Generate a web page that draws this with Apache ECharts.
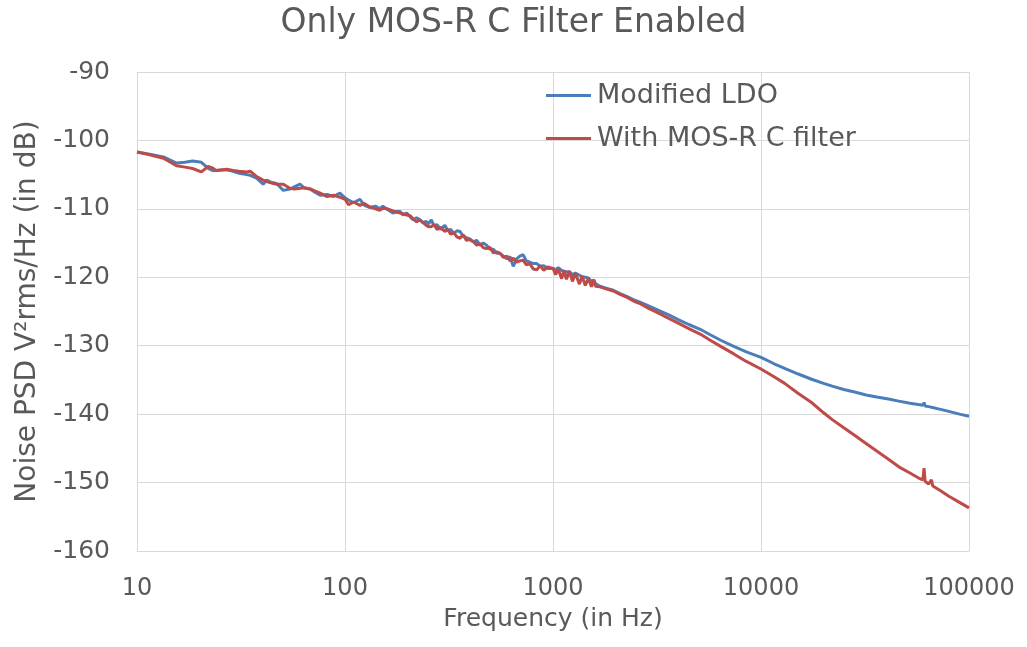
<!DOCTYPE html>
<html>
<head>
<meta charset="utf-8">
<script src="https://cdn.jsdelivr.net/npm/echarts@6/dist/echarts.min.js"></script>
<style>
  html, body { margin: 0; padding: 0; background: #ffffff; }
  #chart { width: 1027px; height: 647px; }
</style>
</head>
<body>
<div id="chart"></div>
<script>
// Frequency points (Hz) shared by both noise spectra
const freqHz = [10, 11.5, 13.4, 15.5, 17, 18.5, 20.4, 22, 23, 24, 27, 29, 31, 33.7, 35, 37.6, 40.4, 42, 44, 46.9,
  50.5, 54.4, 57, 60.8, 64, 68, 72, 76, 82, 88, 94.5, 100, 104, 110, 118, 124, 131, 140, 147, 152,
  160, 170, 178, 184, 190, 198, 206, 213, 221, 229, 238, 245, 252, 260, 268, 277, 288, 302, 312, 322,
  334, 345, 357, 370, 383, 398, 414, 430, 446, 463, 479, 497, 516, 537, 556, 578, 600, 622, 644, 668,
  693, 718, 745, 773, 805, 836, 868, 903, 940, 1000, 1030, 1060, 1100, 1130, 1160, 1200, 1240, 1280, 1340, 1380,
  1430, 1480, 1530, 1570, 1600, 1680, 1800, 1950, 2100, 2260, 2450, 2600, 2900, 3200, 3600, 4000, 4500, 5100, 5700, 6400,
  7400, 8500, 10000, 11500, 13000, 15000, 17500, 20000, 22000, 25000, 28500, 32000, 36000, 41000, 46000, 52000, 57000, 60000, 60800, 61500,
  64000, 66000, 67000, 73000, 80000, 90000, 100000];

// Noise PSD of the modified LDO alone (dB)
const modifiedLdo = [-101.7, -102.0, -102.4, -103.3, -103.2, -103.0, -103.2, -104.1, -104.4, -104.4, -104.3, -104.5, -104.8, -105.0, -105.1, -105.5, -106.4, -105.8, -106.1, -106.3,
  -107.3, -107.1, -106.8, -106.4, -107.0, -107.1, -107.6, -108.0, -107.9, -108.2, -107.7, -108.4, -108.7, -109.1, -108.6, -109.5, -109.8, -109.6, -110.0, -109.6,
  -110.1, -110.6, -110.4, -110.4, -110.9, -110.6, -111.2, -111.6, -111.3, -111.6, -112.1, -111.8, -112.2, -111.6, -112.5, -112.3, -113.0, -112.4, -113.2, -113.0,
  -113.6, -113.2, -113.3, -114.0, -114.2, -114.4, -114.8, -114.6, -115.3, -115.0, -115.3, -115.9, -115.9, -116.5, -116.5, -116.9, -117.3, -117.0, -118.4, -117.3,
  -116.9, -116.7, -117.6, -117.8, -118.0, -118.0, -118.4, -118.3, -118.7, -118.7, -118.9, -118.6, -119.0, -119.1, -119.2, -119.2, -119.6, -119.4, -119.7, -119.9,
  -120.0, -120.1, -120.6, -120.4, -120.9, -121.3, -121.6, -121.9, -122.4, -122.8, -123.3, -123.6, -124.2, -124.8, -125.5, -126.2, -126.9, -127.6, -128.4, -129.2,
  -130.1, -130.9, -131.7, -132.6, -133.3, -134.1, -134.9, -135.5, -135.9, -136.4, -136.8, -137.2, -137.5, -137.8, -138.1, -138.4, -138.6, -138.7, -138.3, -138.8,
  -138.9, -139.0, -139.0, -139.3, -139.6, -140.0, -140.3];

// Noise PSD with the MOS-R C filter enabled (dB)
const withMosRc = [-101.7, -102.1, -102.6, -103.7, -103.9, -104.1, -104.6, -103.8, -104.0, -104.4, -104.2, -104.4, -104.5, -104.6, -104.5, -105.3, -105.8, -106.0, -106.2, -106.4,
  -106.4, -107.0, -107.1, -107.0, -106.9, -107.1, -107.4, -107.7, -108.2, -108.0, -108.3, -108.6, -109.4, -109.0, -109.5, -109.2, -109.7, -110.0, -110.2, -109.9,
  -110.0, -110.3, -110.5, -110.6, -110.7, -110.9, -111.0, -111.5, -111.9, -111.6, -112.0, -112.4, -112.6, -112.6, -112.3, -113.0, -112.7, -113.3, -113.0, -113.7,
  -113.5, -114.1, -114.3, -113.8, -114.6, -114.5, -114.8, -115.3, -115.1, -115.7, -115.8, -115.6, -116.4, -116.3, -116.5, -117.1, -116.9, -117.6, -117.2, -117.8,
  -117.6, -117.5, -118.2, -118.0, -118.8, -118.9, -118.3, -119.0, -118.5, -118.7, -119.6, -118.8, -120.2, -119.0, -120.3, -119.1, -120.6, -119.4, -121.0, -119.8,
  -121.2, -120.1, -121.4, -120.4, -121.3, -121.4, -121.7, -122.0, -122.5, -122.9, -123.5, -123.8, -124.6, -125.2, -126.0, -126.7, -127.5, -128.3, -129.2, -130.1,
  -131.2, -132.3, -133.4, -134.5, -135.5, -136.9, -138.3, -139.8, -140.8, -142.0, -143.2, -144.3, -145.4, -146.6, -147.7, -148.6, -149.3, -149.6, -147.9, -149.8,
  -150.2, -149.6, -150.5, -151.2, -152.0, -152.9, -153.7];

// Axis ticks
const xTicks = [10, 100, 1000, 10000, 100000];
const yTicks = [-160, -150, -140, -130, -120, -110, -100, -90];

const seriesNames = ['Modified LDO', 'With MOS-R C filter'];

const font = 'DejaVu Sans, Verdana, sans-serif';
const textColor = '#595959';
const gridColor = '#D9D9D9';

const toPairs = (vals) => freqHz.map((f, i) => [f, vals[i]]);

const chart = echarts.init(document.getElementById('chart'), null, { renderer: 'canvas' });

chart.setOption({
  backgroundColor: '#ffffff',
  animation: false,
  title: {
    text: 'Only MOS-R C Filter Enabled',
    left: 'center',
    top: 2,
    textStyle: { fontFamily: font, fontSize: 33, fontWeight: 'normal', color: textColor }
  },
  legend: {
    orient: 'vertical',
    left: 541,
    top: 77,
    itemWidth: 45,
    itemHeight: 3,
    itemGap: 16,
    icon: 'rect',
    data: seriesNames,
    textStyle: { fontFamily: font, fontSize: 27, color: textColor, lineHeight: 27, padding: [0, 0, 0, 1] }
  },
  grid: { left: 137, right: 58, top: 72, bottom: 96, containLabel: false },
  xAxis: {
    type: 'log',
    logBase: 10,
    min: xTicks[0],
    max: xTicks[xTicks.length - 1],
    name: 'Frequency (in Hz)',
    nameLocation: 'middle',
    nameGap: 56,
    nameTextStyle: { fontFamily: font, fontSize: 25, color: textColor },
    axisLine: { show: true, lineStyle: { color: gridColor, width: 1 } },
    axisTick: { show: false },
    axisLabel: {
      fontFamily: font, fontSize: 24, color: textColor, margin: 26,
      formatter: (v) => {
        const t = xTicks.find((x) => Math.abs(x - v) / x < 1e-6);
        return t !== undefined ? String(t) : '';
      }
    },
    splitLine: { show: true, lineStyle: { color: gridColor, width: 1 } },
    minorTick: { show: false },
    minorSplitLine: { show: false }
  },
  yAxis: {
    type: 'value',
    min: yTicks[0],
    max: yTicks[yTicks.length - 1],
    interval: 10,
    name: 'Noise PSD V²rms/Hz (in dB)',
    nameLocation: 'middle',
    nameGap: 95,
    nameRotate: 90,
    nameTextStyle: { fontFamily: font, fontSize: 28, color: textColor },
    axisLine: { show: false },
    axisTick: { show: false },
    axisLabel: {
      fontFamily: font, fontSize: 25, color: textColor, margin: 27,
      formatter: (v) => String(Math.round(v))
    },
    splitLine: { show: true, lineStyle: { color: gridColor, width: 1 } }
  },
  series: [
    {
      name: seriesNames[0],
      type: 'line',
      data: toPairs(modifiedLdo),
      showSymbol: false,
      symbol: 'none',
      lineStyle: { color: '#4A7EBB', width: 3 },
      itemStyle: { color: '#4A7EBB' },
      z: 2
    },
    {
      name: seriesNames[1],
      type: 'line',
      data: toPairs(withMosRc),
      showSymbol: false,
      symbol: 'none',
      lineStyle: { color: '#BE4B48', width: 3 },
      itemStyle: { color: '#BE4B48' },
      z: 3
    }
  ]
});
</script>
</body>
</html>
